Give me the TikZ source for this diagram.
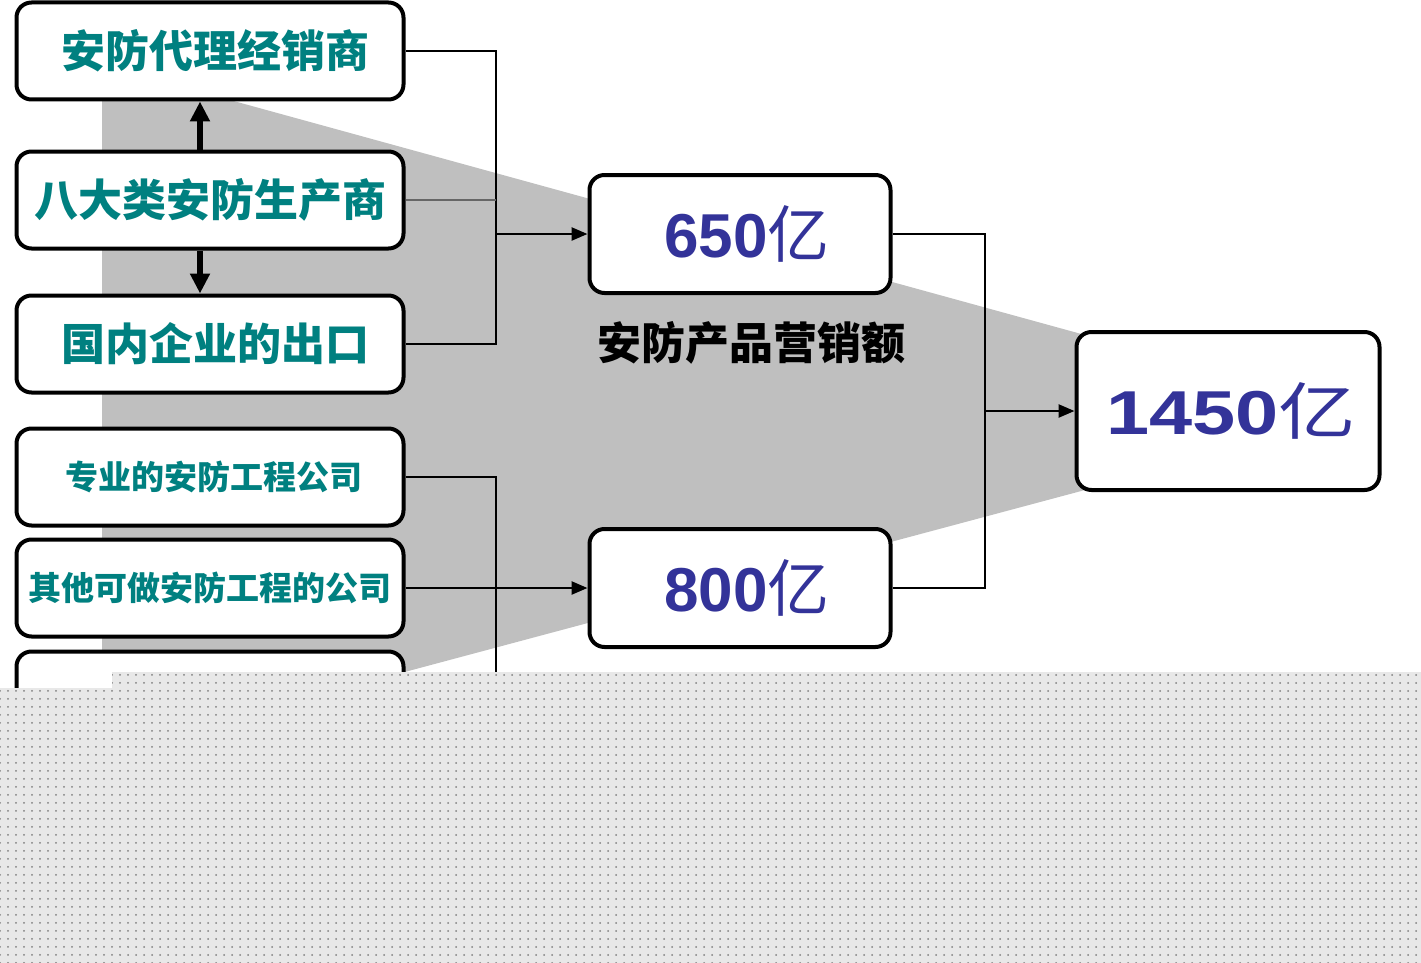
\documentclass[tikz,border=0pt]{standalone}
\usepackage{fontspec}
\usepackage{graphicx}
\setmainfont{Liberation Sans}
\newfontfamily\cjk{Noto Sans CJK SC}
\usetikzlibrary{arrows.meta,positioning,patterns.meta}

\definecolor{tealtext}{RGB}{0,128,128}
\definecolor{bluetext}{RGB}{51,51,153}

\begin{document}
\begin{tikzpicture}
%Sales funnel
	[
	 	 %Styles
       x=1pt, y=-1pt,
       side_box/.style={rectangle,rounded corners=15pt,draw=black,line width=4pt,fill=white,
           minimum width=387pt,minimum height=97pt,inner sep=0pt,text=tealtext,
           font=\cjk\bfseries\fontsize{44}{44}\selectfont},
       small_text/.style={font=\cjk\bfseries\fontsize{33}{33}\selectfont},
       sum_box/.style={rectangle,rounded corners=15pt,draw=black,line width=4pt,fill=white,
           minimum width=301pt,minimum height=118pt,inner sep=0pt,text=bluetext,
           font=\bfseries\fontsize{62}{62}\selectfont},
       label_simple/.style={rectangle,font=\cjk\bfseries\fontsize{44}{44}\selectfont},
       link/.style={draw=black,line width=2.5pt},
       arrow/.style={link,-{Triangle[length=16pt,width=13pt]}},
       thick_arrow/.style={draw=black,line width=6pt,-{Triangle[length=20pt,width=19pt]}}
    ]
    \useasboundingbox (0,0) rectangle (1421,963);

    %Funnel behind the boxes
    \fill[gray!50] (102,100) -- (230,100) -- (1085,335) -- (1085,490) -- (300,700) -- (102,700) -- cycle;

    %Node placement
    \node (agent)[side_box] at (210,51) {\hspace{10pt}安防代理经销商};
    \node (maker)[side_box] at (210,200) {八大类安防生产商};
    \node (export)[side_box] at (210,344) {\hspace{10pt}国内企业的出口};
    \node (proj)[side_box,small_text] at (210,477) {\hspace{8pt}专业的安防工程公司};
    \node (other)[side_box,small_text] at (210,588) {其他可做安防工程的公司};
    \node (more)[side_box] at (210,700) {};
    \node (sale650)[sum_box] at (740,234) {\hspace{14pt}650{\cjk\mdseries 亿}};
    \node (sale800)[sum_box] at (740,588) {\hspace{14pt}800{\cjk\mdseries 亿}};
    \node (total)[sum_box,minimum width=303pt,minimum height=158pt] at (1228,411)
        {\hspace{6pt}\scalebox{1.25}[1]{1450{\cjk\mdseries 亿}}};
    \node (market)[label_simple] at (751,343) {安防产品营销额};

    \coordinate (upjoin) at (496,51);
    \coordinate (lowjoin) at (496,477);
    \coordinate (rightjoin) at (985,234);

    %Edges
    \draw[link] (agent.east) -- (upjoin) |- (export.east);
    \draw[draw=black!60,line width=2pt] (maker.east) -- (maker.east -| upjoin);
    \draw[arrow] (sale650.west -| upjoin) -- (sale650.west);
    \draw[link] (proj.east) -- (lowjoin) -- ++(0,220);
    \draw[arrow] (other.east) -- (sale800.west);
    \draw[link] (sale650.east) -- (rightjoin) |- (sale800.east);
    \draw[arrow] (total.west -| rightjoin) -- (total.west);
    \draw[thick_arrow] ([xshift=-10pt]maker.north) -- ([xshift=-10pt]agent.south);
    \draw[thick_arrow] ([xshift=-10pt]maker.south) -- ([xshift=-10pt]export.north);

    %Dotted area at the bottom
    \fill[gray!18] (0,688) -- (112,688) -- (112,672) -- (1421,672) -- (1421,963) -- (0,963) -- cycle;
    \fill[pattern={Dots[distance=8pt,radius=1pt]},pattern color=gray]
        (0,688) -- (112,688) -- (112,672) -- (1421,672) -- (1421,963) -- (0,963) -- cycle;
\end{tikzpicture}
\end{document}
